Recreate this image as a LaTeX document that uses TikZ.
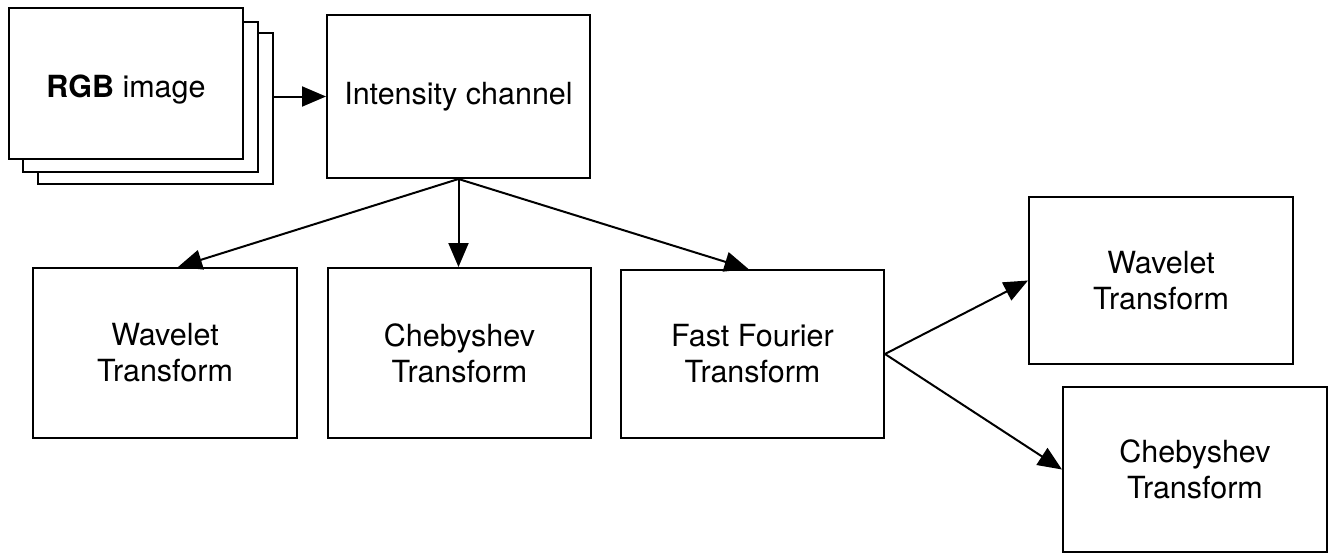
\documentclass[tikz,border=0pt]{standalone}
\usepackage{fontspec}
\setmainfont{TeX Gyre Heros}
\usetikzlibrary{arrows.meta,calc}
\begin{document}
\begin{tikzpicture}[x=1pt,y=-1pt,
  box/.style={draw,line width=2pt,fill=white,rectangle,align=center,inner sep=0pt,
    font=\fontsize{30.5}{36}\selectfont},
  conn/.style={line width=2pt,-{Triangle[length=24pt,width=20pt]}}]
\useasboundingbox (0,0) rectangle (1336,554);
\node[box,minimum width=235pt,minimum height=151pt] (rgb3) at (155.5,108.5) {};
\node[box,minimum width=235pt,minimum height=150pt] (rgb2) at (140.5,97) {};
\node[box,minimum width=234pt,minimum height=151pt,text height=33pt,text depth=6pt] (rgb1) at (126,83.5) {\textbf{RGB} image};
\node[box,minimum width=263pt,minimum height=163pt] (int) at (458.5,96.5) {Intensity channel};
\node[box,minimum width=264pt,minimum height=170pt] (wav1) at (165,353) {Wavelet\\Transform};
\node[box,minimum width=263pt,minimum height=170pt] (cheb1) at (459.5,353) {Chebyshev\\Transform};
\node[box,minimum width=263pt,minimum height=168pt] (fft) at (752.5,354) {Fast Fourier\\Transform};
\node[box,minimum width=264pt,minimum height=167pt] (wav2) at (1161,280.5) {Wavelet\\Transform};
\node[box,minimum width=264pt,minimum height=165pt] (cheb2) at (1195,469.5) {Chebyshev\\Transform};
\draw[conn] (rgb3.east |- int.west) -- (int.west);
\draw[conn] (int.south) -- ([xshift=13pt]wav1.north);
\draw[conn] (int.south) -- (int.south |- cheb1.north);
\draw[conn] (int.south) -- ([xshift=-4pt]fft.north);
\draw[conn] (fft.east) -- (wav2.west);
\draw[conn] (fft.east) -- (cheb2.west);
\end{tikzpicture}
\end{document}
